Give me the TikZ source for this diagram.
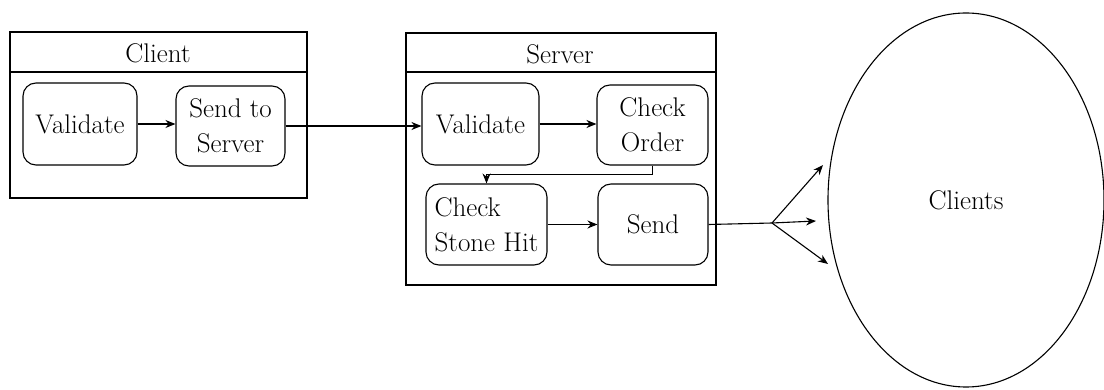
\documentclass[tikz,border=0pt]{standalone}
\usetikzlibrary{shapes.geometric,arrows.meta}
\begin{document}
\begin{tikzpicture}[x=1pt,y=-1pt,line width=1.1pt,
    font=\fontsize{27}{35}\selectfont,
    stepbox/.style={draw, rounded corners=13pt, align=center, inner sep=1pt},
    flow/.style={-{Stealth[length=10pt,width=8pt]}}]
    \useasboundingbox (0,0) rectangle (1104,390);
    % client side
    \draw (10,32) rectangle (307,198);
    \draw (10,72) -- (307,72);
    \node (client) at (158,53) {Client};
    \node[stepbox, minimum width=114pt, minimum height=82pt] (cval) at (80,124) {Validate};
    \node[stepbox, minimum width=109pt, minimum height=80pt] (csend) at (230.5,126) {Send to\\Server};
    % server side
    \draw (406,33) rectangle (716,285);
    \draw (406,72) -- (716,72);
    \node (server) at (560,54) {Server};
    \node[stepbox, minimum width=117pt, minimum height=82pt] (sval) at (480.5,124) {Validate};
    \node[stepbox, minimum width=111pt, minimum height=80pt] (sorder) at (652.5,125) {Check\\Order};
    \node[stepbox, align=left, minimum width=121pt, minimum height=81pt] (shit) at (486.5,224.5) {Check\\Stone Hit};
    \node[stepbox, minimum width=110pt, minimum height=81pt] (ssend) at (653,224.5) {Send};
    % receivers
    \node[draw, ellipse, minimum width=276pt, minimum height=374pt] (clients) at (966,200) {Clients};
    \coordinate (fork) at (772,223);
    \coordinate (up) at (823,165);
    \coordinate (mid) at (816,221);
    \coordinate (down) at (828,264);
    % connectors
    \draw[flow] (cval.east) -- (csend.west |- cval.east);
    \draw[flow] (csend.east) -- (sval.west |- csend.east);
    \draw[flow] (sval.east) -- (sorder.west |- sval.east);
    \draw[flow] (sorder.south) -- ++(0,9) -| (shit.north);
    \draw[flow] (shit.east) -- (ssend.west |- shit.east);
    \draw (ssend.east) -- (fork);
    \draw[flow] (fork) -- (up);
    \draw[flow] (fork) -- (mid);
    \draw[flow] (fork) -- (down);
\end{tikzpicture}
\end{document}
